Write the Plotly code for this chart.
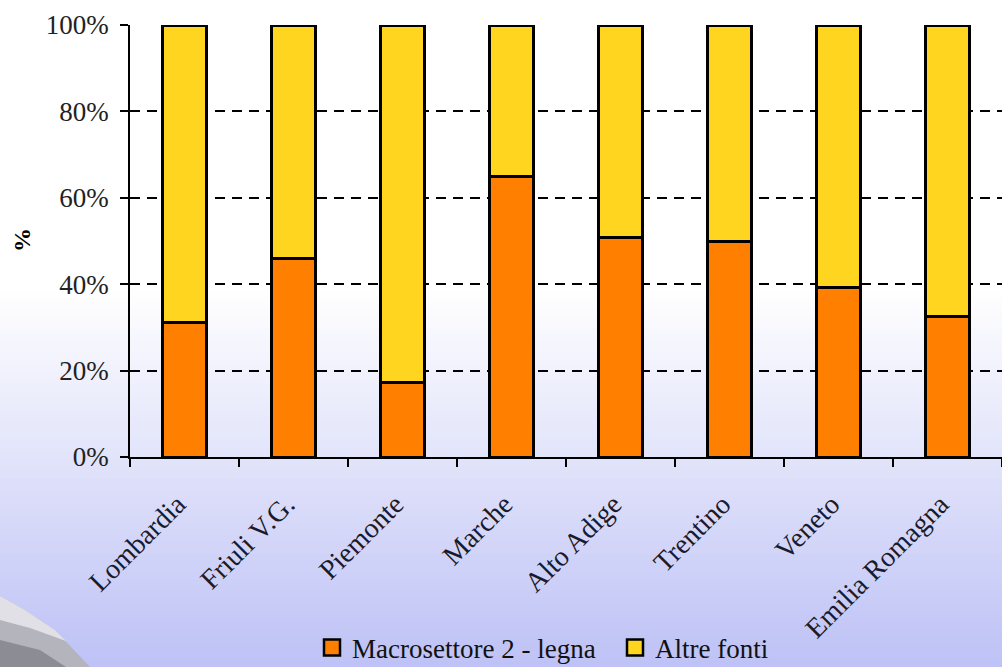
import plotly.graph_objects as go

categories = ["Lombardia", "Friuli V.G.", "Piemonte", "Marche", "Alto Adige",
              "Trentino", "Veneto", "Emilia Romagna"]
legna = [31.1, 46.0, 17.3, 65.0, 50.7, 49.8, 39.3, 32.6]
altre = [round(100 - v, 1) for v in legna]
series_names = ["Macrosettore 2 - legna", "Altre fonti"]
tick_vals = [0, 20, 40, 60, 80, 100]
tick_text = ["0%", "20%", "40%", "60%", "80%", "100%"]

W, H = 1002, 667
L, R, T, B = 130, 0, 25, 210
PW, PH = W - L - R, H - T - B

def px(x):
    return (x - L) / PW

def py(y):
    return (H - B - y) / PH

ORANGE = "#FF8000"
YELLOW = "#FFD51F"
FONT = "Liberation Serif, Times New Roman, serif"

fig = go.Figure()
fig.add_trace(go.Bar(x=categories, y=legna, name=series_names[0], marker=dict(color=ORANGE, line=dict(color="black", width=3)),
                     width=0.4, showlegend=False))
fig.add_trace(go.Bar(x=categories, y=altre, name=series_names[1], marker=dict(color=YELLOW, line=dict(color="black", width=3)),
                     width=0.4, showlegend=False))
for name, col in zip(series_names, [ORANGE, YELLOW]):
    fig.add_trace(go.Scatter(x=[None], y=[None], mode="markers", name=name,
                             marker=dict(symbol="square", size=16, color=col,
                                         line=dict(color="black", width=2.5))))

# background gradient (white at top to lavender at bottom)
shapes = []
n = 60
y0, y1 = 290, H
c0 = (255, 255, 255)
c1 = (190, 194, 246)
for i in range(n):
    ya = y0 + (y1 - y0) * i / n
    yb = y0 + (y1 - y0) * (i + 1) / n + 1
    f = (i + 0.5) / n
    c = tuple(int(c0[k] + (c1[k] - c0[k]) * f) for k in range(3))
    shapes.append(dict(type="rect", xref="paper", yref="paper", layer="below",
                       x0=px(0), x1=px(W), y0=py(yb), y1=py(ya),
                       fillcolor="rgb(%d,%d,%d)" % c, line=dict(width=0)))
# grey swoosh decoration bottom-left
def pth(pts):
    s = "M %f %f " % (px(pts[0][0]), py(pts[0][1]))
    for p in pts[1:]:
        s += "L %f %f " % (px(p[0]), py(p[1]))
    return s + "Z"
shapes.append(dict(type="path", xref="paper", yref="paper", layer="below",
                   path=pth([(0, 596), (25, 610), (55, 630), (90, 667), (0, 667)]),
                   fillcolor="#b4b4bc", line=dict(width=0)))
shapes.append(dict(type="path", xref="paper", yref="paper", layer="below",
                   path=pth([(0, 596), (25, 610), (55, 630), (66, 641), (30, 628), (0, 620)]),
                   fillcolor="#e0e0e6", line=dict(width=0)))
shapes.append(dict(type="path", xref="paper", yref="paper", layer="below",
                   path=pth([(0, 640), (40, 650), (66, 667), (0, 667)]),
                   fillcolor="#8c8c94", line=dict(width=0)))

fig.update_layout(
    width=W, height=H,
    margin=dict(l=L, r=R, t=T, b=B, autoexpand=False),
    paper_bgcolor="white",
    plot_bgcolor="rgba(0,0,0,0)",
    barmode="stack",
    shapes=shapes,
    font=dict(family=FONT, size=27, color="black"),
    showlegend=True,
    legend=dict(orientation="h", x=px(312), xanchor="left", y=py(648), yanchor="middle",
                font=dict(family=FONT, size=27, color="#111"), bgcolor="rgba(0,0,0,0)",
                itemwidth=30, tracegroupgap=0, traceorder="normal", entrywidth=258),
    annotations=[dict(text="<b>%</b>", x=px(22), y=py(240), xref="paper", yref="paper",
                      xanchor="center", yanchor="middle",
                      showarrow=False, textangle=-90, font=dict(family=FONT, size=24, color="black"))],
)
fig.update_xaxes(showline=True, linecolor="black", linewidth=1.5, ticks="outside",
                 tickson="boundaries", ticklen=8, tickcolor="black", tickwidth=1.5,
                 tickangle=-45, showgrid=False, range=[-0.5, 7.5], automargin=False,
                 ticklabelstandoff=18, ticklabelshift=-7,
                 tickfont=dict(family=FONT, size=28, color="#1a1a2a"))
fig.update_yaxes(range=[0, 100], tickvals=tick_vals, ticktext=tick_text, automargin=False,
                 showline=True, linecolor="black", linewidth=1.5, ticks="outside",
                 ticklen=8, tickcolor="black", tickwidth=1.5, ticklabelstandoff=6,
                 showgrid=True, gridcolor="black", gridwidth=1.5, griddash="10px,7px",
                 zeroline=False, tickfont=dict(family=FONT, size=27, color="#222"))

fig.write_html("out.html")
